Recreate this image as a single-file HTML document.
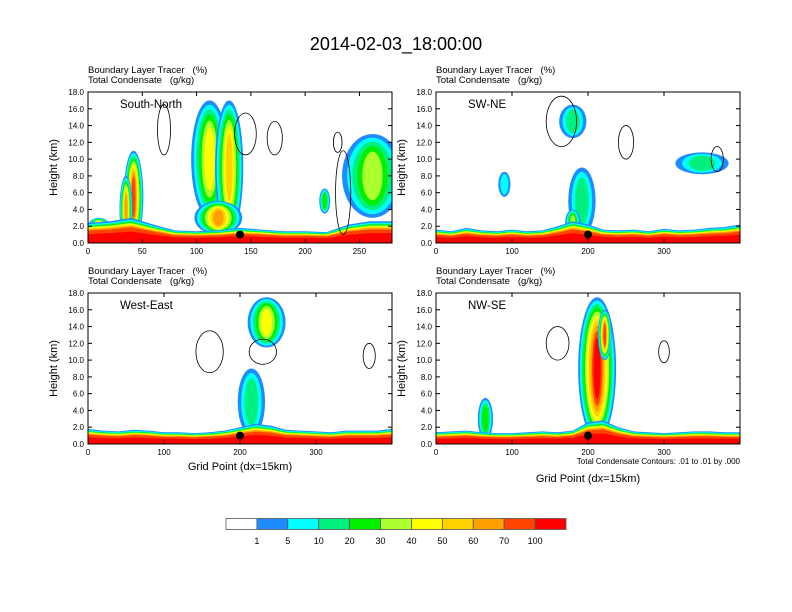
<!DOCTYPE html>
<html><head><meta charset="utf-8"><style>
body{margin:0;background:#fff;}
svg{display:block;font-family:"Liberation Sans",Arial,sans-serif;}
</style></head><body>
<svg id="chart" width="792" height="612" viewBox="0 0 792 612">
<text x="396" y="50" text-anchor="middle" font-size="18">2014-02-03_18:00:00</text>
<g id="panels"></g>
<g id="colorbar"></g>
<text x="740" y="464" text-anchor="end" font-size="8">Total Condensate Contours: .01 to .01 by .000</text>
</svg>
<script>
const levelColors = ['#ffffff','#1e8cff','#00ffff','#00f080','#00f000','#acff2f','#ffff00','#ffd200','#ffa000','#ff4400','#ff0000'];
const levelLabels = ['1','5','10','20','30','40','50','60','70','100'];
const yTicks = [0,2,4,6,8,10,12,14,16,18];
const panelNames = ['South-North','SW-NE','West-East','NW-SE'];
const panelXMax = [280,400,400,400];
const panelXTicks = [[0,50,100,150,200,250],[0,100,200,300],[0,100,200,300],[0,100,200,300]];
const panelDot = [140,200,200,200];
// boundary layer depth (km) sampled every 20 grid points
const blDepth = [
 [2.4,2.6,3.0,2.2,1.5,1.4,1.5,1.8,1.6,1.4,1.4,1.3,2.2,2.6,2.6],
 [1.6,1.4,1.8,1.5,1.4,1.6,1.4,1.5,2.0,2.6,2.2,1.6,1.5,1.6,1.4,1.7,1.5,1.6,1.8,1.9,2.2],
 [1.8,1.6,1.5,1.7,1.6,1.4,1.4,1.3,1.4,1.6,2.0,2.4,2.2,1.7,1.6,1.5,1.4,1.6,1.6,1.6,1.8],
 [1.4,1.5,1.6,1.4,1.3,1.3,1.4,1.5,1.4,1.6,2.6,2.8,2.0,1.5,1.4,1.3,1.4,1.5,1.5,1.4,1.4]
];
// cloud blobs
const blobX = [42,35,112,130,120,262,218,10, 180,192,90,350,180, 235,215, 212,65,222];
const blobH = [5.5,4,10,9,3,8,5,2, 14.5,5,7,9.5,2.5, 14.5,5, 9,3,13];
const blobW = [9,6,17,13,22,28,5,10, 18,18,8,35,10, 25,18, 25,10,9];
const blobHH = [5.5,4,7,8,2,5,1.5,1, 2,4,1.5,1.3,1.5, 3,4, 8.5,2.5,3];
const blobPeak = [9,8,6,7,8,5,4,8, 3,3,2,3,5, 6,3, 10,4,9];
const blobPanel = [0,0,0,0,0,0,0,0, 1,1,1,1,1, 2,2, 3,3,3];
// black contour outlines
const lineX = [70,145,172,230,235, 250,165,370, 160,230,370, 160,300];
const lineH = [13.5,13,12.5,12,6, 12,14.5,10, 11,11,10.5, 12,11];
const lineW = [6,10,7,4,7, 10,20,8, 18,18,8, 15,7];
const lineHH = [3,2.5,2,1.2,5, 2,3,1.5, 2.5,1.5,1.5, 2,1.3];
const linePanel = [0,0,0,0,0, 1,1,1, 2,2,2, 3,3];
const blFactor = [1,0.93,0.88,0.84,0.8,0.76,0.72,0.68,0.62,0.45];

const NS='http://www.w3.org/2000/svg';
function mk(tag,attrs,parent){const e=document.createElementNS(NS,tag);for(const k in attrs)e.setAttribute(k,attrs[k]);parent.appendChild(e);return e;}
const boxes=[[88,92],[436,92],[88,293],[436,293]];
const PW=304, PH=151;
const root=document.getElementById('panels');
panelNames.forEach((name,p)=>{
  const [x0,y0]=boxes[p];
  const xs=v=>x0+v/panelXMax[p]*PW;
  const ys=v=>y0+PH-v/18*PH;
  const g=mk('g',{},root);
  
  
  const cid='clip'+p;
  const cp=mk('clipPath',{id:cid},g);mk('rect',{x:x0,y:y0,width:PW,height:PH},cp);
  const plot=mk('g',{'clip-path':'url(#'+cid+')'},g);
  blobX.forEach((bx,i)=>{
    if(blobPanel[i]!==p)return;
    for(let l=1;l<=blobPeak[i];l++){
      const f=1-(l-1)/(blobPeak[i]+1);
      const e=mk('ellipse',{cx:xs(bx),cy:ys(blobH[i]),rx:blobW[i]/panelXMax[p]*PW*f,ry:blobHH[i]/18*PH*Math.sqrt(f),fill:levelColors[l]},plot);
      
      
    }
  });
  const d=blDepth[p], step=20;
  for(let l=1;l<=10;l++){
    const f=blFactor[l-1];
    let pts=[xs(0)+','+ys(0)];
    d.forEach((v,i)=>pts.push(xs(i*step)+','+ys(v*f)));
    pts.push(xs(panelXMax[p])+','+ys(d[d.length-1]*f));
    pts.push(xs(panelXMax[p])+','+ys(0));
    const pl=mk('polygon',{points:pts.join(' '),fill:levelColors[l]},plot);
    
    
  }
  lineX.forEach((lx,i)=>{
    if(linePanel[i]!==p)return;
    const e=mk('ellipse',{cx:xs(lx),cy:ys(lineH[i]),rx:lineW[i]/panelXMax[p]*PW,ry:lineHH[i]/18*PH,fill:'none',stroke:'#000','stroke-width':0.8},plot);
    
    
  });
  const dot=mk('circle',{cx:xs(panelDot[p]),cy:ys(1),r:4,fill:'#000'},g);
  
  
  mk('rect',{x:x0,y:y0,width:PW,height:PH,fill:'none',stroke:'#000','stroke-width':1},g);
  yTicks.forEach(t=>{
    mk('line',{x1:x0,x2:x0+4,y1:ys(t),y2:ys(t),stroke:'#000'},g);
    mk('line',{x1:x0+PW,x2:x0+PW-4,y1:ys(t),y2:ys(t),stroke:'#000'},g);
    const tx=mk('text',{x:x0-4,y:ys(t)+3,'text-anchor':'end','font-size':8},g);
    tx.textContent=t.toFixed(1);
    
    
  });
  panelXTicks[p].forEach(t=>{
    mk('line',{x1:xs(t),x2:xs(t),y1:y0+PH,y2:y0+PH-4,stroke:'#000'},g);
    mk('line',{x1:xs(t),x2:xs(t),y1:y0,y2:y0+4,stroke:'#000'},g);
    const tx=mk('text',{x:xs(t),y:y0+PH+11,'text-anchor':'middle','font-size':8},g);
    tx.textContent=t;
    
    
  });
  const yl=mk('text',{x:0,y:0,transform:'translate('+(x0-31)+','+(y0+PH/2)+') rotate(-90)','text-anchor':'middle','font-size':11},g);
  yl.textContent='Height (km)';
  
  
  const h1=mk('text',{x:x0,y:y0-19,'font-size':9.5},g);h1.textContent='Boundary Layer Tracer\u00a0\u00a0\u00a0(%)';
  
  
  const h2=mk('text',{x:x0,y:y0-9,'font-size':9.5},g);h2.textContent='Total Condensate\u00a0\u00a0\u00a0(g/kg)';
  
  
  const nm=mk('text',{x:x0+32,y:y0+16,'font-size':11.5},g);nm.textContent=name;
  
  
  if(p>=2){
    const xl=mk('text',{x:x0+PW/2,y:y0+PH+(p===3?38:26),'text-anchor':'middle','font-size':11},g);xl.textContent='Grid Point (dx=15km)';
    
    
  }
});
const cb=document.getElementById('colorbar');
const bw=340/levelColors.length;
levelColors.forEach((c,i)=>{
  const r=mk('rect',{x:226+i*bw,y:518.5,width:bw,height:11,fill:c,stroke:'#555','stroke-width':0.8},cb);
  
  
});
levelLabels.forEach((t,i)=>{
  const tx=mk('text',{x:226+(i+1)*bw,y:544,'text-anchor':'middle','font-size':9},cb);
  tx.textContent=t;
  
  
});
</script>
</body></html>
